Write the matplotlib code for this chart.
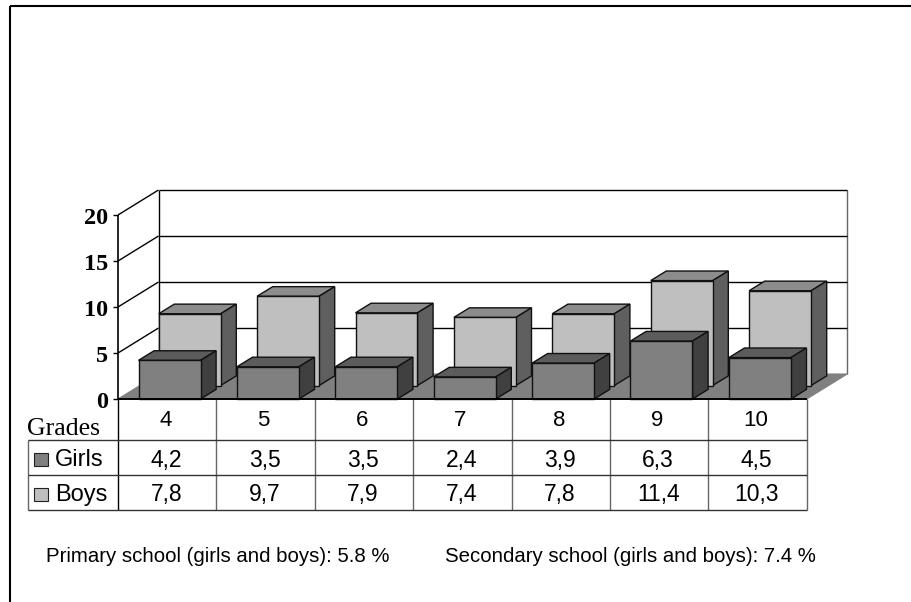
import numpy as np
import matplotlib
matplotlib.use("Agg")
import matplotlib.pyplot as plt
from matplotlib.patches import Polygon, Rectangle

grades = ["4", "5", "6", "7", "8", "9", "10"]
girls = [4.2, 3.5, 3.5, 2.4, 3.9, 6.3, 4.5]
boys = [7.8, 9.7, 7.9, 7.4, 7.8, 11.4, 10.3]
girls_labels = ["4,2", "3,5", "3,5", "2,4", "3,9", "6,3", "4,5"]
boys_labels = ["7,8", "9,7", "7,9", "7,4", "7,8", "11,4", "10,3"]
y_ticks = [0, 5, 10, 15, 20]
notes = ["Primary school (girls and boys): 5.8 %",
         "Secondary school (girls and boys): 7.4 %"]

# scale of the plot in pixels
W, H = 912, 602
X0, Y0 = 118.0, 399.0     # front corner of the floor
CAT = 98.4                # pixels per grade
UNIT = 9.2                # pixels per percent
FLOOR_DX, FLOOR_DY = 40.5 / CAT, 25.0 / UNIT
DEPTH_DX, DEPTH_DY = 15.6 / CAT, 9.6 / UNIT
BAR_W = 62.0 / CAT

fig = plt.figure(figsize=(W / 100, H / 100), dpi=100)
ax = fig.add_axes([0, 0, 1, 1])
ax.set_xlim(-X0 / CAT, (W - X0) / CAT)
ax.set_ylim((Y0 - H) / UNIT, Y0 / UNIT)
ax.axis("off")

n = len(grades)
c_girls = ("#808080", "#404040", "#5c5c5c")
c_boys = ("#bfbfbf", "#5f5f5f", "#8c8c8c")


def px(x, y):
    return (x - X0) / CAT, (Y0 - y) / UNIT


def poly(pts, color, z, ec="#111111", lw=1.0):
    ax.add_patch(Polygon(pts, closed=True, fc=color, ec=ec, lw=lw, zorder=z, joinstyle="miter"))


def line(x1, y1, x2, y2, color="black", lw=1.0, z=2):
    ax.plot([x1, x2], [y1, y2], color=color, lw=lw, zorder=z, solid_capstyle="butt")


def bar3d(x, base, h, w, cols, z):
    face, side, top = cols
    dx, dy = DEPTH_DX, DEPTH_DY
    poly([(x, base + h), (x + w, base + h), (x + w + dx, base + h + dy), (x + dx, base + h + dy)], top, z)
    poly([(x + w, base), (x + w + dx, base + dy), (x + w + dx, base + h + dy), (x + w, base + h)], side, z)
    poly([(x, base), (x + w, base), (x + w, base + h), (x, base + h)], face, z)


# outer frame: left and top edges only
x1, y1 = px(10, 6)
x2, y2 = px(10, 602)
line(x1, y1, x2, y2, lw=1.5)
x3, _ = px(912, 6)
line(x1, y1, x3, y1, lw=1.5)

# floor and walls
poly([(0, 0), (n, 0), (n + FLOOR_DX, FLOOR_DY), (FLOOR_DX, FLOOR_DY)], "#808080", 1, ec="#808080", lw=0.8)
top = y_ticks[-1]
line(FLOOR_DX, FLOOR_DY, FLOOR_DX, top + FLOOR_DY, z=1.5)
line(n + FLOOR_DX, FLOOR_DY, n + FLOOR_DX, top + FLOOR_DY, color="#666666", z=1.5)
line(0, 0, 0, top, lw=1.2, z=1.5)
for t in y_ticks:
    if t > 0:
        line(FLOOR_DX, t + FLOOR_DY, n + FLOOR_DX, t + FLOOR_DY, z=1.5)
        line(0, t, FLOOR_DX, t + FLOOR_DY, z=1.5)
    line(-5 / CAT, t, 0, t, z=1.5)
    ax.text(-10 / CAT, t - 3.0 / UNIT, str(t), ha="right", va="center", fontsize=17.5,
            fontweight="bold", family="Liberation Serif")
line(0, 0, n, 0, lw=1.4, z=6)

# bars, back row first
for i in range(n):
    bar3d(i + 40.7 / CAT, 13.5 / UNIT, boys[i], BAR_W, c_boys, 3)
for i in range(n):
    bar3d(i + 20.5 / CAT, 0.0, girls[i], BAR_W, c_girls, 4)

# data table below the floor
rows_y = [px(0, v)[1] for v in (399, 440, 475, 509.5)]
left = px(27.7, 0)[0]
for k in range(n + 1):
    color = "#666666" if k > 0 else "black"
    line(k, rows_y[0], k, rows_y[3], color=color, lw=1.0)
line(left, rows_y[1], left, rows_y[3], color="#666666")
for r in rows_y[1:]:
    line(left, r, n, r, color="#333333")

mid_head = px(0, 421)[1]
mid_g = px(0, 461)[1]
mid_b = px(0, 495)[1]
head_kw = dict(ha="center", va="center", fontsize=16, family="Liberation Sans")
cell_kw = dict(ha="center", va="center", fontsize=16.5, family="Liberation Sans")
for i in range(n):
    ax.text(i + 0.5 - 0.02, mid_head, grades[i], **head_kw)
    ax.text(i + 0.5 - 0.01, mid_g, girls_labels[i], **cell_kw)
    ax.text(i + 0.5 - 0.01, mid_b, boys_labels[i], **cell_kw)

ax.text(px(27, 0)[0], px(0, 429)[1], "Grades", ha="left", va="center", fontsize=18.5,
        family="Liberation Serif")

# legend keys inside the table
for label, col, ymid in (("Girls", c_girls[0], 459), ("Boys", c_boys[0], 494)):
    kx, ky = px(34, ymid + 6.5)
    ax.add_patch(Rectangle((kx, ky), 14 / CAT, 13 / UNIT, fc=col, ec="#222222", lw=0.8, zorder=3))
    ax.text(px(55, 0)[0], px(0, ymid + 1.5)[1], label, ha="left", va="center", fontsize=17,
            family="Liberation Sans")

ax.text(px(46, 0)[0], px(0, 556)[1], notes[0], ha="left", va="center", fontsize=14.7,
        family="Liberation Sans")
ax.text(px(445, 0)[0], px(0, 556)[1], notes[1], ha="left", va="center", fontsize=14.7,
        family="Liberation Sans")

fig.savefig("out.png", dpi=100)
